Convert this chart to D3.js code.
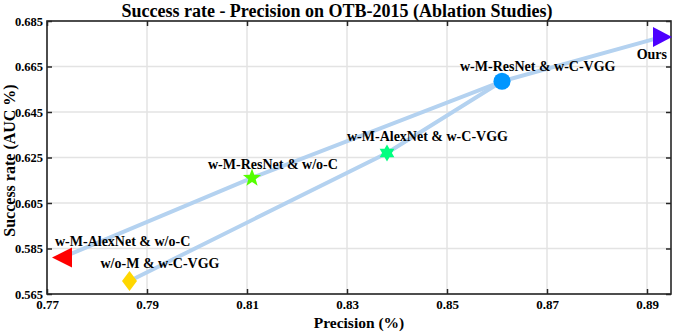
<!DOCTYPE html>
<html>
<head>
<meta charset="utf-8">
<script src="https://cdn.jsdelivr.net/npm/d3@7"></script>
<style>
  body { margin: 0; background: #fff; }
  text { font-family: "Liberation Serif", "Times New Roman", serif; font-weight: bold; fill: #000; }
</style>
</head>
<body>
<div id="chart"></div>
<script>
// Ablation results: precision (x) vs success rate AUC (y)
const methods = ['w-M-AlexNet & w/o-C', 'w/o-M & w-C-VGG', 'w-M-ResNet & w/o-C',
                 'w-M-AlexNet & w-C-VGG', 'w-M-ResNet & w-C-VGG', 'Ours'];
const precision = [0.773, 0.7865, 0.811, 0.838, 0.861, 0.893];
const success = [0.581, 0.5707, 0.616, 0.627, 0.6585, 0.678];
const markerColors = ['#ff0000', '#ffd700', '#55ff00', '#00ff80', '#0096ff', '#4d00ff'];
const markerShapes = ['triLeft', 'diamond', 'star5', 'star6', 'circle', 'triRight'];

// connecting lines (indices into methods)
const line1 = [0, 2, 4, 5];
const line2 = [1, 3, 4];

const xTicks = [0.77, 0.79, 0.81, 0.83, 0.85, 0.87, 0.89];
const yTicks = [0.565, 0.585, 0.605, 0.625, 0.645, 0.665, 0.685];

// label offsets relative to marker (px)
const labelPos = [[-7, -11.5, 'start'], [-29, -13.5, 'start'], [-44, -8.5, 'start'],
                  [-40, -11.5, 'start'], [-42, -10.5, 'start'], [5, 22.5, 'end']];

const W = 676, H = 333;
const margin = { top: 21, right: 5, bottom: 39, left: 47 };
const width = W - margin.left - margin.right;
const height = H - margin.top - margin.bottom;

const svg = d3.select('#chart').append('svg')
  .attr('width', W).attr('height', H);

const g = svg.append('g')
  .attr('transform', `translate(${margin.left},${margin.top})`);

const x = d3.scaleLinear().domain([0.77, 0.8948]).range([0, width]);
const y = d3.scaleLinear().domain([0.565, 0.685]).range([height, 0]);

// grid
g.selectAll('.gx').data(xTicks).enter().append('line')
  .attr('x1', d => x(d)).attr('x2', d => x(d))
  .attr('y1', 0).attr('y2', height)
  .style('stroke', '#e3e3e3').style('stroke-width', 1.5);
g.selectAll('.gy').data(yTicks).enter().append('line')
  .attr('x1', 0).attr('x2', width)
  .attr('y1', d => y(d)).attr('y2', d => y(d))
  .style('stroke', '#e3e3e3').style('stroke-width', 1.5);

// lines
const pts = idx => idx.map(i => [precision[i], success[i]]);
const line = d3.line().x(d => x(d[0])).y(d => y(d[1]));
[line1, line2].forEach(l => {
  g.append('path')
    .datum(pts(l))
    .attr('d', line)
    .style('fill', 'none')
    .style('stroke', '#b4d2f0')
    .style('stroke-width', 4);
});

// axes (ticks inward, box)
const tickSize = 5;
const xAxis = g.append('g').attr('transform', `translate(0,${height})`)
  .call(d3.axisBottom(x).tickValues(xTicks).tickSizeInner(-tickSize).tickSizeOuter(0).tickPadding(6).tickFormat(d3.format('.2f')));
const xTop = g.append('g')
  .call(d3.axisTop(x).tickValues(xTicks).tickSizeInner(-tickSize).tickSizeOuter(0).tickFormat(''));
const yAxis = g.append('g')
  .call(d3.axisLeft(y).tickValues(yTicks).tickSizeInner(-tickSize).tickSizeOuter(0).tickPadding(4).tickFormat(d3.format('.3f')));
const yRight = g.append('g').attr('transform', `translate(${width},0)`)
  .call(d3.axisRight(y).tickValues(yTicks).tickSizeInner(-tickSize).tickSizeOuter(0).tickFormat(''));

[xAxis, xTop, yAxis, yRight].forEach(a => {
  a.selectAll('.domain').remove();
  a.selectAll('line').style('stroke', '#262626').style('stroke-width', 1.5);
  a.selectAll('text').style('font-family', '"Liberation Serif", serif').style('font-weight', 'bold');
});
xAxis.selectAll('text').style('font-size', '13px');
yAxis.selectAll('text').style('font-size', '12.5px');

g.append('rect')
  .attr('width', width).attr('height', height)
  .style('fill', 'none').style('stroke', '#262626').style('stroke-width', 1.6);

// markers
const sym = {
  circle: () => d3.symbol().type(d3.symbolCircle).size(230)(),
  diamond: () => 'M0,-10L7.5,0L0,10L-7.5,0Z',
  star5: () => starPath(5, 9.5, 3.9),
  star6: () => starPath(6, 8.5, 4.9),
  triLeft: () => 'M-10,0L10,-10L10,10Z',
  triRight: () => 'M10,0L-9,-10L-9,10Z'
};
function starPath(n, ro, ri) {
  const p = [];
  for (let k = 0; k < 2 * n; k++) {
    const a = -Math.PI / 2 + k * Math.PI / n;
    const r = k % 2 === 0 ? ro : ri;
    p.push([r * Math.cos(a), r * Math.sin(a)]);
  }
  return 'M' + p.map(q => q.join(',')).join('L') + 'Z';
}

methods.forEach((m, i) => {
  g.append('path')
    .attr('d', sym[markerShapes[i]]())
    .attr('transform', `translate(${x(precision[i])},${y(success[i])})`)
    .style('fill', markerColors[i]);
});

// point labels
methods.forEach((m, i) => {
  g.append('text')
    .attr('x', x(precision[i]) + labelPos[i][0])
    .attr('y', y(success[i]) + labelPos[i][1])
    .style('text-anchor', labelPos[i][2])
    .style('font-size', '14px')
    .text(m);
});

// title & axis labels
svg.append('text')
  .attr('x', 337).attr('y', 17)
  .style('text-anchor', 'middle').style('font-size', '18px')
  .text('Success rate - Precision on OTB-2015 (Ablation Studies)');

svg.append('text')
  .attr('x', margin.left + width / 2).attr('y', 328)
  .style('text-anchor', 'middle').style('font-size', '15.5px')
  .text('Precision (%)');

svg.append('text')
  .attr('transform', `translate(15,${margin.top + height / 2 + 3}) rotate(-90)`)
  .style('text-anchor', 'middle').style('font-size', '16px')
  .text('Success rate (AUC %)');
</script>
</body>
</html>
